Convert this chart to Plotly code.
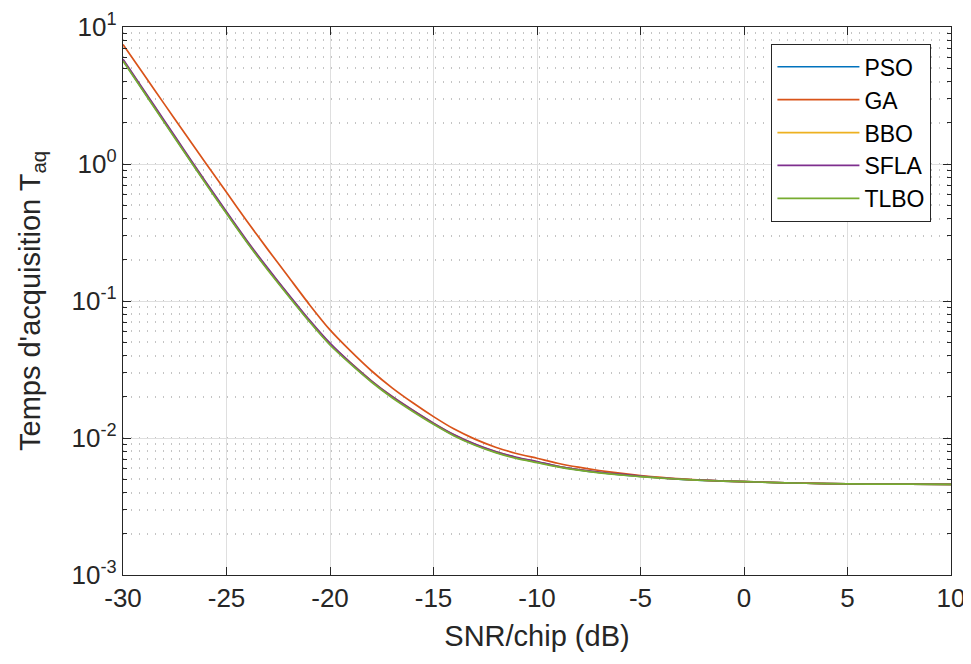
import plotly.graph_objects as go

snr = [-30, -29, -28, -27, -26, -25, -24, -23, -22, -21, -20, -19, -18, -17, -16,
       -15, -14, -13, -12, -11, -10, -9, -8, -7, -6, -5, -4, -3, -2, -1, 0,
       2, 4, 6, 8, 10]

pso = [5.705, 3.399, 2.025, 1.209, 0.7250, 0.4388, 0.2688, 0.1696, 0.1095, 0.07150,
       0.04823, 0.03494, 0.02590, 0.01988, 0.01579, 0.01272, 0.01045, 0.008940,
       0.007894, 0.007167, 0.006673, 0.006200, 0.005860, 0.005600, 0.005405,
       0.005240, 0.005105, 0.004996, 0.004913, 0.004845, 0.004799,
       0.004711, 0.004645, 0.004613, 0.004603, 0.004592]

ga = [7.447, 4.519, 2.735, 1.663, 1.014, 0.6209, 0.3802, 0.2371, 0.1496, 0.09441,
      0.06152, 0.04305, 0.03097, 0.02323, 0.01807, 0.01432, 0.01161, 0.009817,
      0.008570, 0.007709, 0.007112, 0.006546, 0.006124, 0.005794, 0.005534,
      0.005321, 0.005152, 0.005023, 0.004932, 0.004853, 0.004800,
      0.004712, 0.004646, 0.004614, 0.004604, 0.004593]

bbo = [5.762, 3.432, 2.045, 1.221, 0.7322, 0.4432, 0.2714, 0.1713, 0.1106, 0.07221,
       0.04871, 0.03528, 0.02615, 0.02007, 0.01594, 0.01284, 0.01054, 0.009010,
       0.007950, 0.007210, 0.006700, 0.006220, 0.005875, 0.005612, 0.005413,
       0.005245, 0.005108, 0.004998, 0.004914, 0.004846, 0.004799,
       0.004711, 0.004645, 0.004613, 0.004603, 0.004592]

sfla = [5.82, 3.47, 2.07, 1.235, 0.740, 0.448, 0.2745, 0.1730, 0.1117, 0.0729,
        0.0492, 0.0353, 0.02615, 0.02007, 0.01594, 0.01284, 0.01056, 0.00903,
        0.00797, 0.00724, 0.00674, 0.00621, 0.00588, 0.00563, 0.00544,
        0.00528, 0.00511, 0.00500, 0.00492, 0.00485, 0.00480,
        0.00471, 0.004645, 0.004613, 0.004603, 0.004592]

tlbo = [5.649, 3.365, 2.004, 1.197, 0.7178, 0.4345, 0.2661, 0.1679, 0.1084, 0.07079,
        0.04775, 0.03459, 0.02564, 0.01968, 0.01563, 0.01259, 0.01035, 0.008851,
        0.007816, 0.007096, 0.006607, 0.006152, 0.005821, 0.005572, 0.005383,
        0.005224, 0.005093, 0.004989, 0.004909, 0.004842, 0.004797,
        0.004710, 0.004645, 0.004613, 0.004603, 0.004592]

series_names = ["PSO", "GA", "BBO", "SFLA", "TLBO"]
series_values = [pso, ga, bbo, sfla, tlbo]
series_colors = ["#0072BD", "#D95319", "#EDB120", "#7E2F8E", "#77AC30"]

x_ticks = [-30, -25, -20, -15, -10, -5, 0, 5, 10]
y_ticks = [1e-3, 1e-2, 1e-1, 1e0, 1e1]
y_ticktext = ["10<sup>-3</sup>", "10<sup>-2</sup>", "10<sup>-1</sup>",
              "10<sup>0</sup>", "10<sup>1</sup>"]

FONT = "Liberation Sans, Arial, Helvetica, sans-serif"
AX = "#262626"

fig = go.Figure()
for name, vals, col in zip(series_names, series_values, series_colors):
    fig.add_trace(go.Scatter(x=snr, y=vals, name=name, mode="lines",
                             line=dict(color=col, width=1.7, shape="spline",
                                       smoothing=0.6)))

fig.update_layout(
    width=963, height=648,
    margin=dict(l=115, r=20, t=19, b=81),
    paper_bgcolor="white", plot_bgcolor="white",
    font=dict(family=FONT, size=23, color=AX),
    showlegend=True,
    legend=dict(x=0.976, y=0.969, xanchor="right", yanchor="top",
                bgcolor="white", bordercolor=AX, borderwidth=1.3,
                font=dict(family=FONT, size=23, color="black"),
                itemwidth=82, tracegroupgap=0),
    xaxis=dict(
        range=[-30, 10], tickvals=x_ticks, ticktext=[str(v) for v in x_ticks],
        automargin=False,
        showgrid=True, gridcolor="#dfdfdf", gridwidth=1,
        zeroline=False, showline=True, linecolor=AX, linewidth=1.4,
        mirror="ticks", ticks="inside", ticklen=8, tickcolor=AX,
        tickfont=dict(family=FONT, size=26, color=AX),
        title=dict(text="SNR/chip (dB)", font=dict(family=FONT, size=29, color=AX),
                   standoff=13),
    ),
    yaxis=dict(
        type="log", range=[-3, 1], tickvals=y_ticks, ticktext=y_ticktext,
        automargin=False,
        showgrid=True, gridcolor="#dfdfdf", gridwidth=1,
        zeroline=False, showline=True, linecolor=AX, linewidth=1.4,
        mirror="ticks", ticks="inside", ticklen=8, tickcolor=AX,
        tickfont=dict(family=FONT, size=26, color=AX),
        minor=dict(dtick="D1", showgrid=True, gridcolor="#c4c4c4",
                   griddash="1px,7px", gridwidth=1.5,
                   ticks="inside", ticklen=4, tickcolor=AX),
        title=dict(text="Temps d'acquisition T<sub>aq</sub>",
                   font=dict(family=FONT, size=29, color=AX), standoff=22),
    ),
)

fig.write_html("out.html")
